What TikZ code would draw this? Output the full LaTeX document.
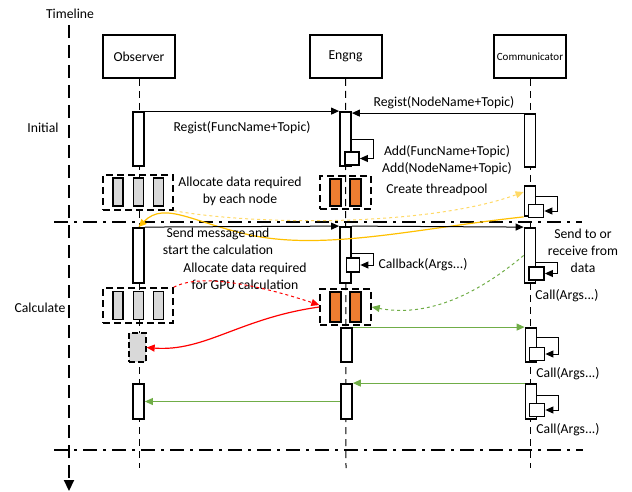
\documentclass[tikz,border=0pt]{standalone}
\usepackage{fontspec}
\setmainfont{Carlito}
\usepackage{tikz}
\usetikzlibrary{arrows.meta}
\usetikzlibrary{calc}
\definecolor{barorange}{HTML}{ED7D31}
\definecolor{bargray}{HTML}{D9D9D9}
\definecolor{threadyellow}{HTML}{FFC000}
\definecolor{pooldash}{HTML}{FFD966}
\definecolor{callgreen}{HTML}{70AD47}
\begin{document}
\begin{tikzpicture}[x=1pt,y=-1pt,
  every node/.style={font=\fontsize{13.7}{17}\selectfont},
  actor/.style={draw,line width=2pt,minimum width=72pt,minimum height=43pt,inner sep=0pt},
  bar/.style={draw,fill=white,line width=1.8pt,minimum width=11pt,inner sep=0pt},
  callbox/.style={draw,fill=white,line width=1.8pt,minimum width=14pt,minimum height=13pt,inner sep=0pt},
  grp/.style={draw,line width=1.4pt,dash pattern=on 7pt off 4pt,inner sep=0pt},
  graybar/.style={draw,fill=bargray,line width=1.2pt,minimum width=10pt,minimum height=28pt,inner sep=0pt},
  orbar/.style={draw,fill=barorange,line width=1.2pt,minimum width=11pt,minimum height=28pt,inner sep=0pt},
  life/.style={dash pattern=on 7pt off 5pt,line width=1pt},
  phase/.style={line width=2pt,dash pattern=on 14pt off 6pt on 3pt off 6pt},
  msg/.style={-{Triangle[length=8pt,width=7pt]},line width=1pt},
  selfcall/.style={msg}]
\useasboundingbox (0,0) rectangle (632,492);

% timeline
\coordinate (tltop) at (69,25);
\coordinate (tlbot) at (69,491);
\draw[line width=2.2pt,dash pattern=on 13pt off 7pt,-{Triangle[length=11pt,width=10pt]}] (tltop) -- (tlbot);
\node (tltxt) at (70,14) {Timeline};
\node (initial) at (43,128) {Initial};
\node (calcul) at (40,308) {Calculate};

% phases
\coordinate (ph1a) at (54,222);
\coordinate (ph1b) at (582,222);
\coordinate (ph2a) at (54,450);
\coordinate (ph2b) at (583,450);
\draw[phase] (ph1a) -- (ph1b);
\draw[phase] (ph2a) -- (ph2b);

% actors
\node[actor] (obs) at (139,56.5) {Observer};
\node[actor] (eng) at (345.5,56.5) {Engng};
\node[actor,font=\fontsize{11}{13}\selectfont] (com) at (530,56.5) {Communicator};

% lifelines
\coordinate (obsend) at (139,468);
\coordinate (engend) at (346,468);
\coordinate (comend) at (530.5,468);
\draw[life] (obs.south) -- (obsend);
\draw[life] (eng.south) -- (engend);
\draw[life] (com.south -| comend) -- (comend);

%% Observer
\node[bar,minimum height=54pt] (ob1) at (138.5,139) {};
\node[grp,minimum width=70pt,minimum height=35pt] (og1) at (138,192.5) {};
\node[graybar] at (118,192) {};
\node[graybar] at (138.5,192) {};
\node[graybar] at (158.5,192) {};
\node[bar,minimum height=55pt] (ob2) at (138.5,255.5) {};
\node[grp,minimum width=70pt,minimum height=35pt] (og2) at (138,305.5) {};
\node[graybar] at (118,305.5) {};
\node[graybar] at (138.5,305.5) {};
\node[graybar] at (158.5,305.5) {};
\node[draw,fill=bargray,line width=1.3pt,dash pattern=on 6pt off 3pt,minimum width=17pt,minimum height=29pt,inner sep=0pt] (ogpu) at (137.5,347.5) {};
\node[bar,minimum height=35pt] (ob3) at (138.5,401.5) {};

%% Engng
\node[bar,minimum height=54pt] (eb1) at (345.5,139) {};
\node[callbox] (ec1) at (352,158.5) {};
\node[grp,minimum width=51pt,minimum height=33pt] (eg1) at (345.5,192.5) {};
\node[orbar,minimum height=27pt] at (335.5,192.5) {};
\node[orbar,minimum height=27pt] at (355.5,192.5) {};
\node[bar,minimum height=56pt] (eb2) at (345.5,255) {};
\node[callbox,minimum width=13pt,minimum height=14pt] (ec2) at (353,265) {};
\node[grp,minimum width=51pt,minimum height=36pt] (eg2) at (345.5,307) {};
\node[orbar,minimum height=30pt] at (335.5,307) {};
\node[orbar,minimum height=30pt] at (355.5,307) {};
\node[bar,minimum height=34pt] (eb3) at (346.5,345) {};
\node[bar,minimum height=35pt] (eb4) at (346.5,401.5) {};

%% Communicator
\node[bar,minimum height=53pt] (cb1) at (530,140.5) {};
\node[bar,minimum height=30pt] (cb2) at (530,201) {};
\node[callbox,minimum width=15pt] (cc2) at (536,211) {};
\node[bar,minimum height=55pt] (cb3) at (530,255.5) {};
\node[callbox,minimum width=15pt] (cc3) at (536.5,273.5) {};
\node[bar,minimum height=34pt] (cb4) at (531,345) {};
\node[callbox,minimum width=15pt] (cc4) at (537,354) {};
\node[bar,minimum height=35pt] (cb5) at (531,401.5) {};
\node[callbox,minimum width=15pt] (cc5) at (537,410) {};

% self calls
\draw[selfcall] ($(eb1.east |- ec1.north)+(0,-12)$) -| ($(ec1.east)+(14,0)$) -- (ec1.east);
\draw[selfcall] ($(eb2.east |- ec2.north)+(0,-4)$) -| ($(ec2.east)+(13,0)$) -- (ec2.east);
\draw[selfcall] ($(cb2.east |- cc2.north)+(0,-7)$) -| ($(cc2.east)+(13,0)$) -- (cc2.east);
\draw[selfcall] ($(cb3.east |- cc3.north)+(0,-4)$) -| ($(cc3.east)+(13,0)$) -- (cc3.east);
\draw[selfcall] ($(cb4.east |- cc4.north)+(0,-9)$) -| ($(cc4.east)+(13,0)$) -- (cc4.east);
\draw[selfcall] ($(cb5.east |- cc5.north)+(0,-7)$) -| ($(cc5.east)+(13,0)$) -- (cc5.east);

% initial messages
\draw[msg] (ob1.north east) -- (eb1.north west);
\draw[msg] (cb1.north west) -- (cb1.north west -| eb1.east);
\node (lregf) at (242,128) {Regist(FuncName+Topic)};
\node (lregn) at (444,103) {Regist(NodeName+Topic)};
\node[align=center] (ladd) at (447,160.5) {Add(FuncName+Topic)\\Add(NodeName+Topic)};
\node[align=center] (lalloc) at (240,191.5) {Allocate data required\\by each node};
\node (lthread) at (437,190) {Create threadpool};
\draw[pooldash,dashed,line width=1pt,-{Triangle[length=8pt,width=7pt]}] (og1.south east) .. controls (260,226) and (430,226) .. ($(cb2.west)+(0,-9)$);
\draw[threadyellow,line width=1.2pt,-{Triangle[length=8pt,width=7pt]}] (cb2.south west) .. controls (420,228) and (330,250) .. (255,236) .. controls (195,224) and (165,200) .. (ob2.north);

% calculation messages
\draw[msg] (ob2.north east) -- (eb2.north west);
\draw[msg] (eb2.north east) -- (cb3.north west);
\node[align=center] (lsend) at (218,241.5) {Send message and\\start the calculation};
\node[align=center] (lsendrecv) at (583,251) {Send to or\\receive from\\data};
\node (lcallback) at (423,265) {Callback(Args...)};
\node (lcall1) at (567,296) {Call(Args...)};
\node[align=center] (lgpu) at (245,276.5) {Allocate data required\\for GPU calculation};
\draw[red,dashed,line width=1pt,-{Triangle[length=8pt,width=7pt]}] (og2.north east) .. controls (205,270) and (280,292) .. ($(eg2.west)+(0,-2)$);
\draw[red,line width=1.2pt,-{Triangle[length=8pt,width=7pt]}] (eg2.west) .. controls (240,318) and (205,352) .. (ogpu.east);
\draw[callgreen,dashed,line width=1pt,-{Triangle[length=8pt,width=7pt]}] (cb3.west) .. controls (480,292) and (430,318) .. (eg2.east);
\draw[callgreen,line width=1pt,-{Triangle[length=8pt,width=7pt]}] (eb3.north east) -- (cb4.north west);
\draw[callgreen,line width=1pt,-{Triangle[length=8pt,width=7pt]}] (cb5.north west) -- (eb4.north east);
\draw[callgreen,line width=1pt,-{Triangle[length=8pt,width=7pt]}] (eb4.west) -- (ob3.east);
\node (lcall2) at (568,374) {Call(Args...)};
\node (lcall3) at (568,430) {Call(Args...)};
\end{tikzpicture}
\end{document}
